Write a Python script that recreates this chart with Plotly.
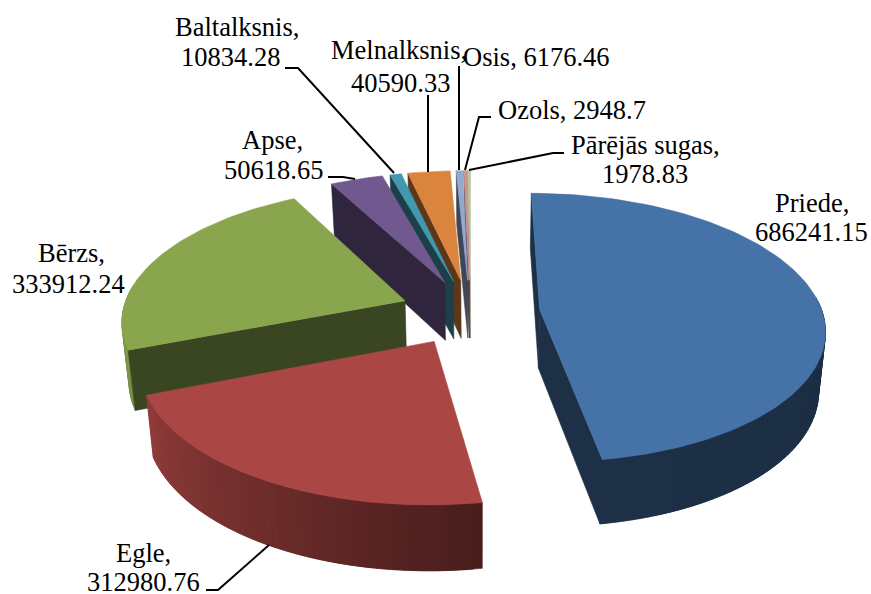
import numpy as np
import plotly.graph_objects as go

species = ["Priede", "Egle", "Bērzs", "Apse", "Baltalksnis", "Melnalksnis", "Osis", "Ozols", "Pārējās sugas"]
volumes = [686241.15, 312980.76, 333912.24, 50618.65, 10834.28, 40590.33, 6176.46, 2948.7, 1978.83]
colors = ["#4572A7", "#AA4643", "#89A54E", "#71588F", "#4198AF", "#DB843D", "#93A9CF", "#D19392", "#B9CD96"]

# drawing order: back slices first, the front slice last
draw_order = [8, 7, 6, 5, 4, 3, 2, 0, 1]

# label lines: text, centre x, centre y
label_lines = [
    ("Priede,", 812, 203), ("686241.15", 811, 232),
    ("Egle,", 143, 553), ("312980.76", 143, 582),
    ("Bērzs,", 71, 253), ("333912.24", 68, 284),
    ("Apse,", 272, 140), ("50618.65", 273, 170),
    ("Baltalksnis,", 237, 27), ("10834.28", 230, 57),
    ("Melnalksnis,", 399, 50), ("40590.33", 400, 83),
    ("Osis, 6176.46", 536, 57),
    ("Ozols, 2948.7", 572, 110),
    ("Pārējās sugas,", 645, 145), ("1978.83", 645, 174),
]
leaders = [
    ([269, 218, 206], [545, 590, 590]),
    ([355, 343, 328], [179, 177, 177]),
    ([394, 298, 285], [173, 68, 68]),
    ([428, 428], [172, 95]),
    ([459, 459], [170, 66]),
    ([465, 479, 491], [170, 117, 117]),
    ([469, 553, 564], [170, 153, 153]),
]

# projection of the tilted pie
X0, Y0, A, B, K = 470.0, 312.0, 282.5, 132.5, 0.136
EXPLODE = 0.248
XV = 480.0


def project(wx, wy, bottom=False):
    wx, wy = np.asarray(wx, float), np.asarray(wy, float)
    s = 1.0 / (1.0 + K * wy)
    x = X0 + A * wx * s
    y = Y0 - B * wy * s
    if bottom:
        y = y + 24 + 35 * s
        x = XV + (x - XV) * 0.98
    return x, y


def shade(hex_color, f):
    r, g, b = (int(hex_color[i:i + 2], 16) for i in (1, 3, 5))
    return f"rgb({r * f:.0f},{g * f:.0f},{b * f:.0f})"


def wall_factor(theta):
    return float(np.interp(theta, [90, 171, 248, 290], [0.40, 0.42, 0.85, 1.0]))


fig = go.Figure()


def poly(xs, ys, color):
    fig.add_trace(go.Scatter(x=list(xs) + [xs[0]], y=list(ys) + [ys[0]], mode="lines", fill="toself",
                             fillcolor=color, line=dict(color=color, width=0.6),
                             hoverinfo="skip", showlegend=False))


fractions = np.array(volumes) / sum(volumes)
ends = np.cumsum(fractions) * 360.0
starts = ends - fractions * 360.0

for i in draw_order:
    t0, t1 = starts[i], ends[i]
    mid = np.radians((t0 + t1) / 2)
    ox, oy = EXPLODE * np.sin(mid), EXPLODE * np.cos(mid)
    n = max(2, int((t1 - t0) / 1.5) + 1)
    th = np.linspace(t0, t1, n)
    wx = ox + np.sin(np.radians(th))
    wy = oy + np.cos(np.radians(th))
    col = colors[i]
    # outer wall, front-facing part only; each strip overlaps the next to hide seams
    for j in range(n - 1):
        tm = (th[j] + th[j + 1]) / 2
        if np.cos(np.radians(tm)) > 0.1:
            continue
        xa, ya = project(wx[j:j + 3], wy[j:j + 3])
        xb, yb = project(wx[j:j + 3][::-1], wy[j:j + 3][::-1], bottom=True)
        poly(list(xa) + list(xb), list(ya) + list(yb), shade(col, wall_factor(tm)))
    # cut faces, only when they face the viewer
    for k, sign in ((0, 1), (-1, -1)):
        xa, ya = project([ox, wx[k]], [oy, wy[k]])
        xb, yb = project([wx[k], ox], [wy[k], oy], bottom=True)
        dx, dy = xa[1] - xa[0], ya[1] - ya[0]
        vx, vy = xb[0] - xa[1], yb[0] - ya[1]
        if sign * (-dy * vx + dx * vy) < 0:
            poly(list(xa) + list(xb), list(ya) + list(yb), shade(col, 0.42))
    # top face
    xt, yt = project(np.r_[ox, wx], np.r_[oy, wy])
    poly(list(xt), list(yt), col)

for lx, ly in leaders:
    fig.add_trace(go.Scatter(x=lx, y=ly, mode="lines", line=dict(color="black", width=2),
                             hoverinfo="skip", showlegend=False))

for text, x, y in label_lines:
    fig.add_annotation(x=x, y=y, text=text, showarrow=False, xanchor="center", yanchor="middle",
                       font=dict(family="Liberation Serif", size=26.5, color="black"))

fig.update_layout(
    width=871, height=594, margin=dict(l=0, r=0, t=0, b=0), autosize=False,
    paper_bgcolor="white", plot_bgcolor="white", showlegend=False,
    xaxis=dict(range=[0, 871], visible=False, fixedrange=True),
    yaxis=dict(range=[594, 0], visible=False, fixedrange=True),
)
fig.write_html("out.html", config={"displayModeBar": False},
               post_script="document.body.style.margin='0';document.body.style.overflow='hidden';")
